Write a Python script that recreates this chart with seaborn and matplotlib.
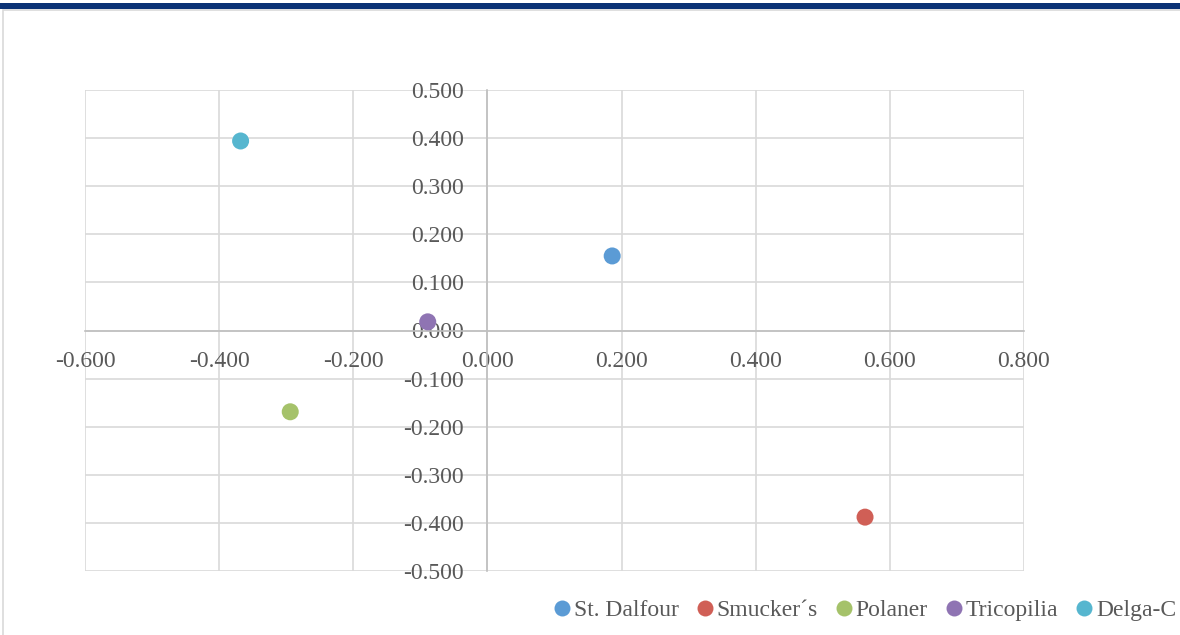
import matplotlib
matplotlib.use("Agg")
import matplotlib.pyplot as plt
from matplotlib.patches import Rectangle
from matplotlib.lines import Line2D
import seaborn as sns
import pandas as pd

brands = ["St. Dalfour", "Smucker´s", "Polaner", "Tricopilia", "Delga-C"]
dim1 = [0.186, 0.563, -0.294, -0.089, -0.368]
dim2 = [0.155, -0.388, -0.169, 0.018, 0.394]
colors = ["#5b9bd5", "#d05f56", "#a5c26a", "#8f74b3", "#56b6cf"]
x_ticks = [-0.6, -0.4, -0.2, 0.0, 0.2, 0.4, 0.6, 0.8]
y_ticks = [-0.5, -0.4, -0.3, -0.2, -0.1, 0.0, 0.1, 0.2, 0.3, 0.4, 0.5]

sns.set_theme(style="white")
plt.rcParams["font.family"] = ["Liberation Serif", "DejaVu Serif"]

df = pd.DataFrame({"brand": brands, "x": dim1, "y": dim2})

fig = plt.figure(figsize=(11.8, 6.35), dpi=100)
ax = fig.add_axes([85 / 1180, 1 - 571 / 635, (1024 - 85) / 1180, (571 - 90) / 635])

sns.scatterplot(data=df, x="x", y="y", hue="brand", palette=colors,
                s=150, edgecolor="none", legend=False, ax=ax, zorder=3)

ax.set_xlim(-0.6, 0.8)
ax.set_ylim(-0.5, 0.5)
ax.set_xticks(x_ticks)
ax.set_yticks(y_ticks)
ax.set_xticklabels([f"{v:.3f}" for v in x_ticks])
ax.set_yticklabels([f"{v:.3f}" for v in y_ticks])
ax.set_xlabel("")
ax.set_ylabel("")

ax.grid(True, color="#d9d9d9", linewidth=1.2)
ax.set_axisbelow(True)
for side in ["top", "right"]:
    ax.spines[side].set_visible(False)
ax.spines["left"].set_position(("data", 0))
ax.spines["bottom"].set_position(("data", 0))
for side in ["left", "bottom"]:
    ax.spines[side].set_color("#bfbfbf")
    ax.spines[side].set_linewidth(1.2)
    ax.spines[side].set_zorder(2)

ax.tick_params(axis="both", length=0, labelsize=17, labelcolor="#595959")
ax.tick_params(axis="y", pad=17)
ax.tick_params(axis="x", pad=15)

# page header band and chart border
fig.patches.append(Rectangle((0, 1 - 9 / 635), 1, 6 / 635, transform=fig.transFigure,
                             facecolor="#0b3275", edgecolor="none"))
fig.patches.append(Rectangle((3 / 1180, -0.01), 1.0, 1 - 10 / 635 + 0.01,
                             transform=fig.transFigure, facecolor="none",
                             edgecolor="#d9d9d9", linewidth=1.2))

handles = [Line2D([], [], marker="o", linestyle="none", markersize=11.5,
                  markerfacecolor=c, markeredgecolor="none") for c in colors]
fig.legend(handles, brands, loc="center left", bbox_to_anchor=(541 / 1180, 1 - 610 / 635),
           ncol=5, frameon=False, fontsize=17, handletextpad=0.0, columnspacing=0.6,
           labelcolor="#595959", borderaxespad=0, handlelength=1.0)

fig.savefig("out.png", dpi=100)
